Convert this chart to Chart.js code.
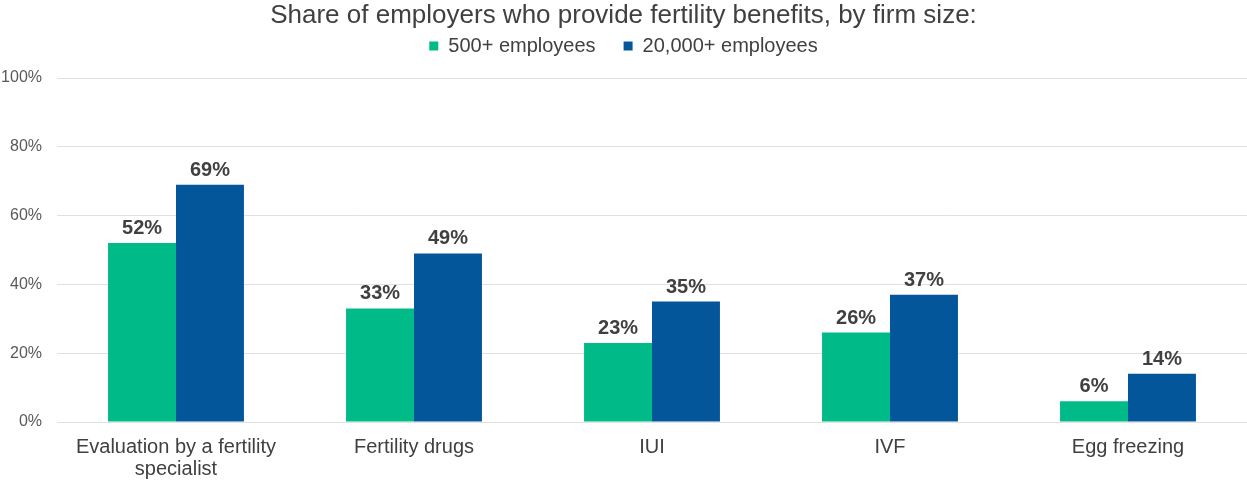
<!DOCTYPE html>
<html>
<head>
<meta charset="utf-8">
<script src="https://cdn.jsdelivr.net/npm/chart.js@4.4.1/dist/chart.umd.min.js"></script>
<style>
  html, body { margin: 0; padding: 0; background: #ffffff; }
  #wrap { width: 1247px; height: 487px; position: relative; }
</style>
</head>
<body>
<div id="wrap"><canvas id="c" width="1247" height="487"></canvas></div>
<script>
const titleText = 'Share of employers who provide fertility benefits, by firm size:';
const categories = [['Evaluation by a fertility', 'specialist'], 'Fertility drugs', 'IUI', 'IVF', 'Egg freezing'];
const seriesNames = ['500+ employees', '20,000+ employees'];
const employees500 = [52, 33, 23, 26, 6];
const employees20000 = [69, 49, 35, 37, 14];
const yTicks = [0, 20, 40, 60, 80, 100];

const FONT = "'Liberation Sans', Arial, sans-serif";

const valueLabels = {
  id: 'valueLabels',
  afterDatasetsDraw(chart) {
    const ctx = chart.ctx;
    ctx.save();
    ctx.font = 'bold 20px ' + FONT;
    ctx.fillStyle = '#404040';
    ctx.textAlign = 'center';
    ctx.textBaseline = 'alphabetic';
    chart.data.datasets.forEach((ds, di) => {
      const meta = chart.getDatasetMeta(di);
      meta.data.forEach((bar, i) => {
        ctx.fillText(ds.data[i] + '%', bar.x, bar.y - 9);
      });
    });
    ctx.restore();
  }
};

// keep the legend block tall enough so the plot starts below it
const legendHeight = {
  id: 'legendHeight',
  afterInit(chart) {
    const lg = chart.legend;
    if (lg && !lg._wrappedFit) {
      const orig = lg.fit;
      lg.fit = function () {
        orig.call(this);
        this.height = 70;
      };
      lg._wrappedFit = true;
    }
  }
};

new Chart(document.getElementById('c'), {
  type: 'bar',
  data: {
    labels: categories,
    datasets: [
      { label: seriesNames[0], data: employees500, backgroundColor: '#00BB87', borderWidth: 0 },
      { label: seriesNames[1], data: employees20000, backgroundColor: '#04569A', borderWidth: 0 }
    ]
  },
  options: {
    responsive: false,
    animation: false,
    devicePixelRatio: 1,
    layout: { padding: { left: 0, right: 0, top: 0, bottom: 0 } },
    datasets: { bar: { categoryPercentage: 0.571, barPercentage: 1.0 } },
    plugins: {
      title: {
        display: true,
        text: titleText,
        color: '#404040',
        font: { family: FONT, size: 26, weight: 'normal' },
        padding: { top: 0, bottom: -23.2 }
      },
      legend: {
        display: true,
        position: 'top',
        labels: {
          color: '#404040',
          font: { family: FONT, size: 20 },
          boxWidth: 9,
          boxHeight: 9,
          padding: 28
        }
      },
      tooltip: { enabled: false }
    },
    scales: {
      x: {
        grid: { display: false },
        border: { display: false },
        ticks: {
          color: '#404040',
          font: { family: FONT, size: 20, lineHeight: 1.1 },
          padding: 6,
          maxRotation: 0,
          autoSkip: false
        },
        afterFit(scale) { scale.height = 65; }
      },
      y: {
        min: 0,
        max: 100,
        afterBuildTicks(scale) { scale.ticks = yTicks.map(v => ({ value: v })); },
        grid: { color: '#e0e0e0', lineWidth: 1, drawTicks: false },
        border: { display: false },
        ticks: {
          color: '#595959',
          font: { family: FONT, size: 16 },
          padding: 15,
          callback: v => v + '%'
        },
        afterFit(scale) { scale.width = 57; }
      }
    }
  },
  plugins: [valueLabels, legendHeight]
});
</script>
</body>
</html>
